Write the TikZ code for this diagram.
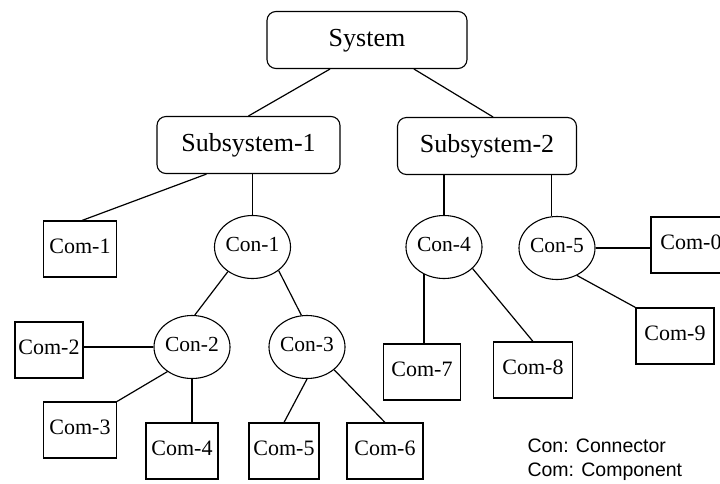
\documentclass[tikz,border=0pt]{standalone}
\usepackage{fontspec}
\setmainfont{Liberation Serif}
\newfontfamily\legendfont{Liberation Sans}
\usepackage{tikz}
\usetikzlibrary{shapes.geometric}
\tikzset{%
	topbox/.style = {draw, rectangle, rounded corners=9pt, minimum height=57pt, text depth=0.5em, font=\fontsize{26}{30}\selectfont}, % system level
	comp/.style   = {draw, rectangle, minimum width=73pt, minimum height=56pt, inner sep=0pt, text depth=0.5em, font=\fontsize{22}{26}\selectfont}, % component
	conn/.style   = {draw, ellipse, minimum width=65pt, minimum height=63pt, inner sep=0pt, text depth=0.5em, font=\fontsize{21.5}{25}\selectfont}, % connector
	legend/.style = {anchor=west, inner sep=0pt, font=\legendfont\fontsize{19.5}{23}\selectfont},
	link/.style   = {line width=1.2pt},
}

\begin{document}
\begin{tikzpicture}[x=1pt, y=-1pt, line width=1.1pt]
	\clip (0,0) rectangle (720,483);
	% upper levels
	\node[topbox, minimum width=200pt] (system) at (367,40) {System};
	\node[topbox, minimum width=183pt] (sub1) at (248.5,145) {Subsystem-1};
	\node[topbox, minimum width=179pt] (sub2) at (487,146) {Subsystem-2};
	% connectors
	\node[conn, minimum width=61pt] (con1) at (252.5,247) {Con-1};
	\node[conn] (con2) at (192,347) {Con-2};
	\node[conn] (con3) at (307,347) {Con-3};
	\node[conn] (con4) at (444,247) {Con-4};
	\node[conn] (con5) at (557,248) {Con-5};
	% components
	\node[comp] (com1) at (80,249) {Com-1};
	\node[comp, minimum width=68pt] (com2) at (49,350) {Com-2};
	\node[comp] (com3) at (80,430) {Com-3};
	\node[comp, minimum width=72pt] (com4) at (182,451) {Com-4};
	\node[comp, minimum width=70pt] (com5) at (284,451) {Com-5};
	\node[comp, minimum width=76pt] (com6) at (385,451) {Com-6};
	\node[comp, minimum width=77pt] (com7) at (422,372) {Com-7};
	\node[comp, minimum width=79pt] (com8) at (533,370) {Com-8};
	\node[comp, minimum width=78pt] (com9) at (675,336) {Com-9};
	\node[comp, minimum width=80pt] (com0) at (691,245) {Com-0};
	% links
	\draw[link] ([xshift=-37pt]system.south) -- (sub1.north);
	\draw[link] ([xshift=47pt]system.south) -- ([xshift=6pt]sub2.north);
	\draw[link] ([xshift=-42pt]sub1.south) -- ([xshift=2pt]com1.north);
	\draw[link] (con1.north) -- (con1.north |- sub1.south);
	\draw[link] (con4.north) -- (con4.north |- sub2.south);
	\draw[link] (con5.100) -- (con5.100 |- sub2.south);
	\draw[link] (con1.225) -- (con2.85);
	\draw[link] (con1.318) -- (con3.100);
	\draw[link] (com2.east |- con2.west) -- (con2.west);
	\draw[link] (con2.225) -- (com3.north east);
	\draw[link] (con2.south) -- (con2.south |- com4.north);
	\draw[link] (con3.south) -- (com5.north);
	\draw[link] (con3.320) -- (com6.north);
	\draw[link] (con4.234) -- (con4.234 |- com7.north);
	\draw[link] (con4.323) -- (com8.north);
	\draw[link] (con5.east) -- (con5.east -| com0.west);
	\draw[link] (con5.306) -- (com9.north west);
	% legend
	\node[legend] (lcon) at (527,446) {Con: Connector};
	\node[legend] (lcom) at (527,472) {Com: Component};
\end{tikzpicture}
\end{document}
